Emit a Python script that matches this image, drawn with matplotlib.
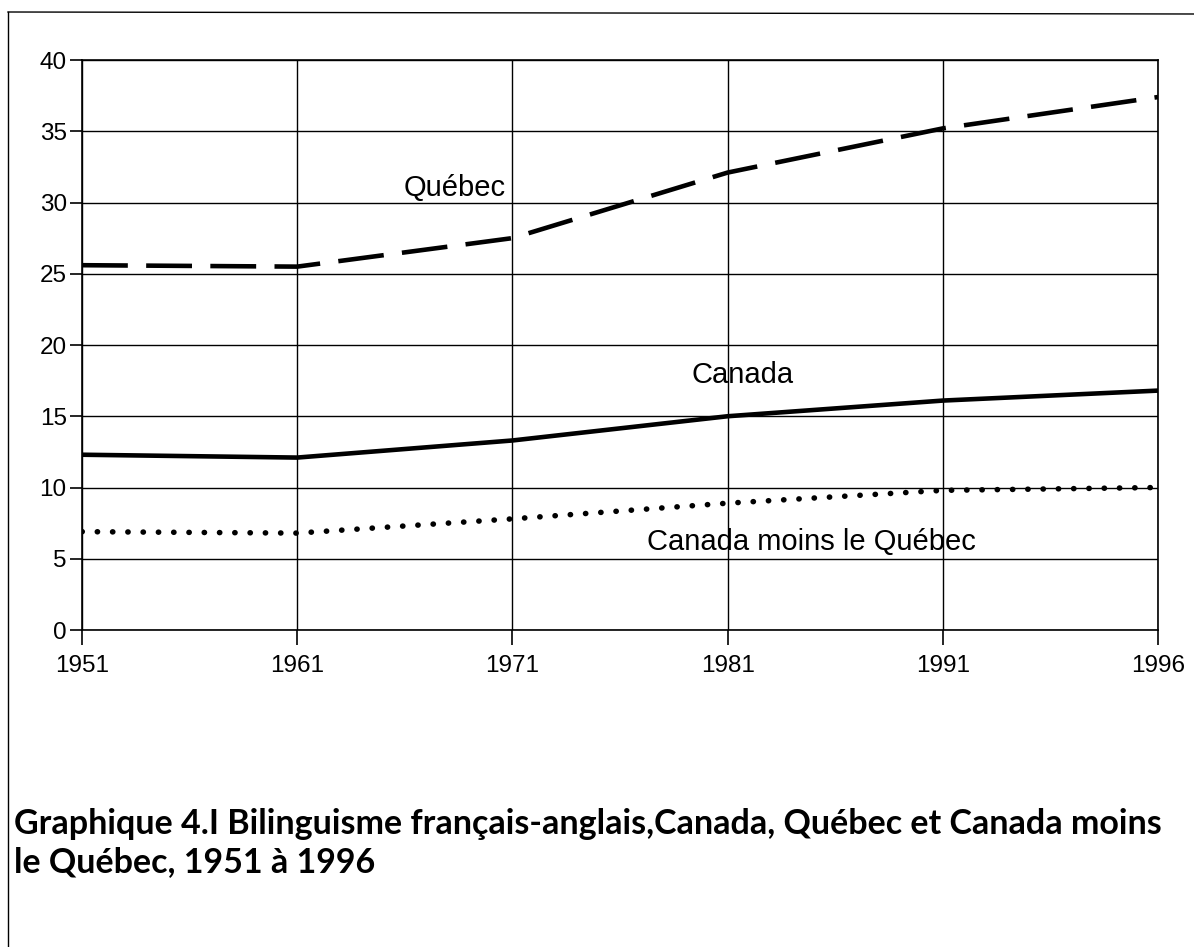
import matplotlib.pyplot as plt
import matplotlib.lines as mlines

plt.rcParams['font.family'] = ['Liberation Sans', 'DejaVu Sans']

years = ['1951', '1961', '1971', '1981', '1991', '1996']
quebec = [25.6, 25.5, 27.5, 32.1, 35.2, 37.4]
canada = [12.3, 12.1, 13.3, 15.0, 16.1, 16.8]
canada_moins_qc = [6.9, 6.8, 7.8, 8.9, 9.8, 10.0]
y_ticks = [0, 5, 10, 15, 20, 25, 30, 35, 40]

title = ("Graphique 4.I Bilinguisme français-anglais,Canada, Québec et Canada moins\n"
         "le Québec, 1951 à 1996")

fig = plt.figure(figsize=(11.94, 9.47), dpi=100)
ax = fig.add_axes([82 / 1194, 1 - 630 / 947, (1158 - 82) / 1194, 570 / 947])

x = list(range(len(years)))
ax.plot(x, quebec, color='black', lw=3.3, linestyle=(0, (10, 4)), solid_capstyle='butt')
ax.plot(x, canada, color='black', lw=3.3, solid_capstyle='butt')
ax.plot(x, canada_moins_qc, color='black', lw=4.0, linestyle=(0, (0.05, 2.7)),
        dash_capstyle='round')

ax.set_xlim(0, len(years) - 1)
ax.set_ylim(0, 40)
ax.set_xticks(x)
ax.set_xticklabels(years)
ax.set_yticks(y_ticks)
ax.grid(True, color='black', lw=1.0)
ax.set_axisbelow(True)
for s in ax.spines.values():
    s.set_color('black')
    s.set_linewidth(1.2)
ax.tick_params(axis='x', length=11, width=1.2, pad=7, labelsize=17.5)
ax.tick_params(axis='y', length=9, width=1.2, pad=2, labelsize=17.5)

ax.text(1.73, 31.0, 'Québec', fontsize=21, ha='center', va='center')
ax.text(3.07, 17.9, 'Canada', fontsize=21, ha='center', va='center')
ax.text(3.39, 6.2, 'Canada moins le Québec', fontsize=21, ha='center', va='center')

# page frame of the scanned figure
fig.add_artist(mlines.Line2D([8 / 1194, 8 / 1194], [0, 1 - 12 / 947], color='black', lw=1,
                             transform=fig.transFigure))
fig.add_artist(mlines.Line2D([8 / 1194, 1], [1 - 12 / 947, 1 - 14 / 947], color='black', lw=1,
                             transform=fig.transFigure))

fig.text(14 / 1194, 1 - 808 / 947, title, fontsize=24.5, fontweight='bold', family='Lato',
         ha='left', va='top', linespacing=1.25)

fig.savefig('out.png', dpi=100)
